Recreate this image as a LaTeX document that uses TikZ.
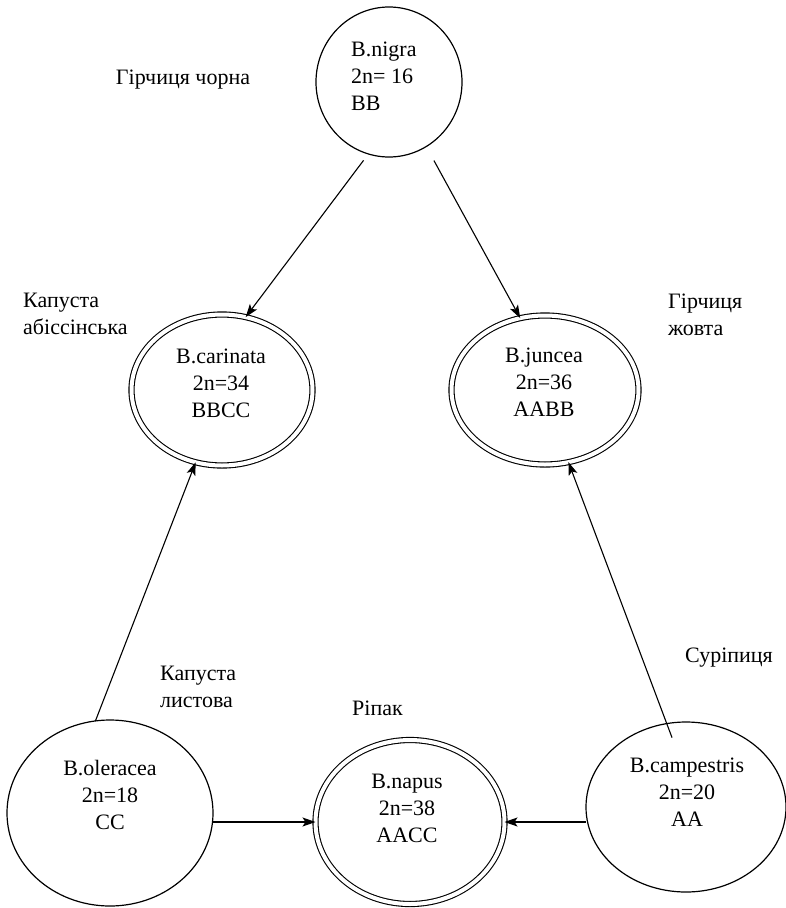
\documentclass[tikz,border=0pt]{standalone}
\usepackage{fontspec}
\setmainfont{Liberation Serif}
\usetikzlibrary{shapes.geometric,arrows.meta}
\begin{document}
\begin{tikzpicture}[x=1pt,y=-1pt,
  species/.style={ellipse,draw,line width=1.2pt,inner sep=0pt,outer sep=0pt},
  hybrid/.style={ellipse,draw,double,double distance=4pt,line width=1.1pt,inner sep=0pt,outer sep=0pt},
  info/.style={font=\fontsize{22}{27}\selectfont,align=center,inner sep=0pt},
  caption/.style={font=\fontsize{22}{27}\selectfont,align=left,inner sep=0pt,anchor=west},
  arr/.style={line width=1.1pt,-{Stealth[length=13pt,width=9pt,inset=3pt]}}
]
\useasboundingbox[fill=white] (0,0) rectangle (786,908);

% diploid species (single outline)
\node[species,minimum width=146pt,minimum height=150pt] (nigra) at (389,82) {};
\node[species,minimum width=206pt,minimum height=186pt] (oleracea) at (110,813) {};
\node[species,minimum width=200pt,minimum height=170pt] (campestris) at (686,807) {};

% amphidiploid species (double outline)
\node[hybrid,minimum width=181pt,minimum height=151pt] (carinata) at (222,390) {};
\node[hybrid,minimum width=187pt,minimum height=149pt] (juncea) at (545,390) {};
\node[hybrid,minimum width=189pt,minimum height=164pt] (napus) at (410,822) {};

% species data
\node[info,anchor=west,align=left] (nigra-t) at (351,76) {B.nigra\\2n= 16\\BB};
\node[info] (carinata-t) at (221,383) {B.carinata\\2n=34\\BBCC};
\node[info] (juncea-t) at (544,382) {B.juncea\\2n=36\\AABB};
\node[info] (oleracea-t) at (110,795) {B.oleracea\\2n=18\\CC};
\node[info] (campestris-t) at (687,792) {B.campestris\\2n=20\\AA};
\node[info] (napus-t) at (407,808) {B.napus\\2n=38\\AACC};

% common names
\node[info] (nigra-n) at (183,80) {Гірчиця чорна};
\node[caption] (carinata-n) at (23,313.5) {Капуста\\абіссінська};
\node[caption] (juncea-n) at (668,315) {Гірчиця\\жовта};
\node[caption] (oleracea-n) at (160,686.5) {Капуста\\листова};
\node[info] (napus-n) at (377.5,708) {Ріпак};
\node[info] (campestris-n) at (729,658) {Суріпиця};

% genome transfers
\draw[arr,shorten <=8pt] (nigra.254) -- (carinata.72);
\draw[arr,shorten <=16pt] (nigra.300) -- (juncea.109);
\draw[arr] (oleracea.99) -- (carinata.250);
\draw[arr,shorten <=-15pt] (campestris.103) -- (juncea.288);
\draw[arr] (oleracea.east |- napus.west) -- (napus.west);
\draw[arr] (campestris.west |- napus.east) -- (napus.east);
\end{tikzpicture}
\end{document}
